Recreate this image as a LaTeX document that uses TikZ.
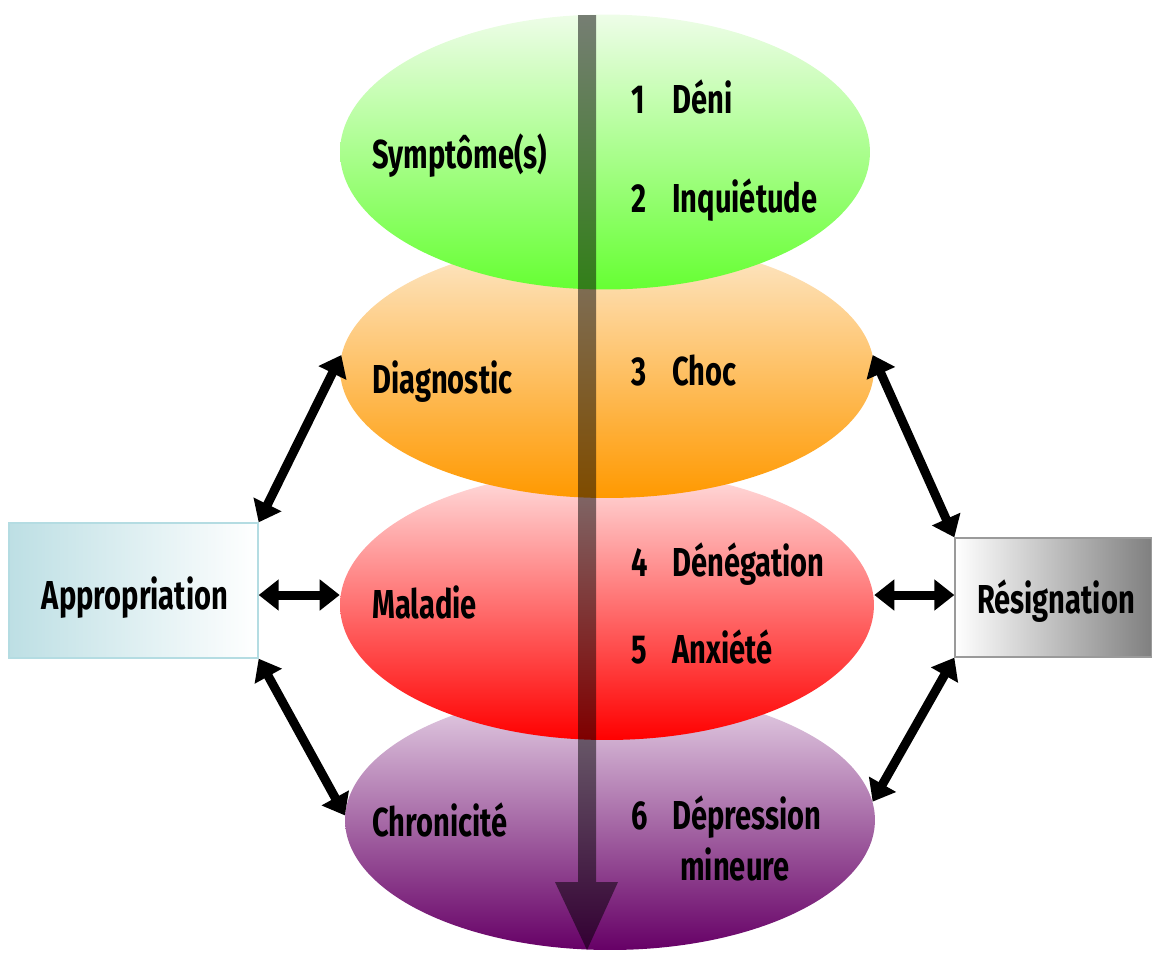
\documentclass[tikz,border=0pt]{standalone}
\usepackage{fontspec}
\setmainfont{Fira Sans}[FakeStretch=0.72]
\usetikzlibrary{shapes.geometric,arrows.meta}
\definecolor{gTop}{HTML}{EEFDE8}
\definecolor{gBot}{HTML}{66FF33}
\definecolor{oTop}{HTML}{FDE9CC}
\definecolor{oBot}{HTML}{FF9900}
\definecolor{rTop}{HTML}{FFE0E0}
\definecolor{rBot}{HTML}{FF0000}
\definecolor{pTop}{HTML}{E8D6E8}
\definecolor{pBot}{HTML}{660066}
\definecolor{teal}{HTML}{BDDFE4}
\definecolor{tealline}{HTML}{B4DCE2}
\definecolor{gryline}{HTML}{9A9A9A}
\newcommand{\numlbl}[2]{\makebox[0.82cm][l]{#1}#2}
\begin{document}
\begin{tikzpicture}[x=0.02cm,y=-0.02cm,
  ell/.style={ellipse, inner sep=0pt, draw=none},
  lbl/.style={anchor=base west, inner sep=0pt, font=\fontsize{23}{27}\selectfont\bfseries},
  boxlbl/.style={anchor=base, inner sep=0pt, font=\fontsize{23}{27}\selectfont\bfseries},
  dbl/.style={line width=0.18cm, {Triangle[length=0.4cm,width=0.6cm]}-{Triangle[length=0.4cm,width=0.6cm]}}
]
\useasboundingbox (0,0) rectangle (1152,958);
% ellipses, bottom one first
\node[ell, top color=pTop, bottom color=pBot, minimum width=10.6cm, minimum height=5.2cm] (e4) at (610,820) {};
\node[ell, top color=rTop, bottom color=rBot, minimum width=10.68cm, minimum height=5.4cm] (e3) at (607,605) {};
\node[ell, top color=oTop, bottom color=oBot, minimum width=10.68cm, minimum height=5.16cm] (e2) at (607,369) {};
\node[ell, top color=gTop, bottom color=gBot, minimum width=10.6cm, minimum height=5.5cm] (e1) at (605,152) {};
% side boxes
\node[draw=tealline, line width=0.8pt, left color=teal, right color=white, minimum width=4.98cm, minimum height=2.7cm, inner sep=0pt] (app) at (133.5,590.5) {};
\node[draw=gryline, line width=0.8pt, left color=white, right color=black!50, minimum width=3.94cm, minimum height=2.38cm, inner sep=0pt] (res) at (1053.5,597.5) {};
% time arrow
\fill[black, opacity=0.5] (578,15) -- (596,15) -- (596,882) -- (618,882) -- (587,950) -- (555,882) -- (578,882) -- cycle;
% labels
\node[lbl] (t1) at (372,168) {Symptôme(s)};
\node[lbl] (t2) at (372,393) {Diagnostic};
\node[lbl] (t3) at (372,618) {Maladie};
\node[lbl] (t4) at (372,836) {Chronicité};
\node[lbl] (s1) at (631,113) {\numlbl{1}{Déni}};
\node[lbl] (s2) at (631,212) {\numlbl{2}{Inquiétude}};
\node[lbl] (s3) at (631,385) {\numlbl{3}{Choc}};
\node[lbl] (s4) at (631,576) {\numlbl{4}{Dénégation}};
\node[lbl] (s5) at (631,663) {\numlbl{5}{Anxiété}};
\node[lbl] (s6) at (631,829) {\numlbl{6}{Dépression}};
\node[lbl] (s6b) at (680,880) {mineure};
\node[boxlbl] (appt) at (135,609) {Appropriation};
\node[boxlbl] (rest) at (1056,613) {Résignation};
% connectors
\draw[dbl] (app.north east) -- (e2.177);
\draw[dbl] ([yshift=-0.09cm]app.east) -- ([yshift=-0.09cm]app.east -| e3.west);
\draw[dbl] (app.south east) -- (e4.179);
\draw[dbl] (res.north west) -- (e2.3);
\draw[dbl] ([yshift=0.05cm]res.west) -- ([yshift=0.05cm]res.west -| e3.east);
\draw[dbl] (res.south west) -- (e4.4);
\end{tikzpicture}
\end{document}
